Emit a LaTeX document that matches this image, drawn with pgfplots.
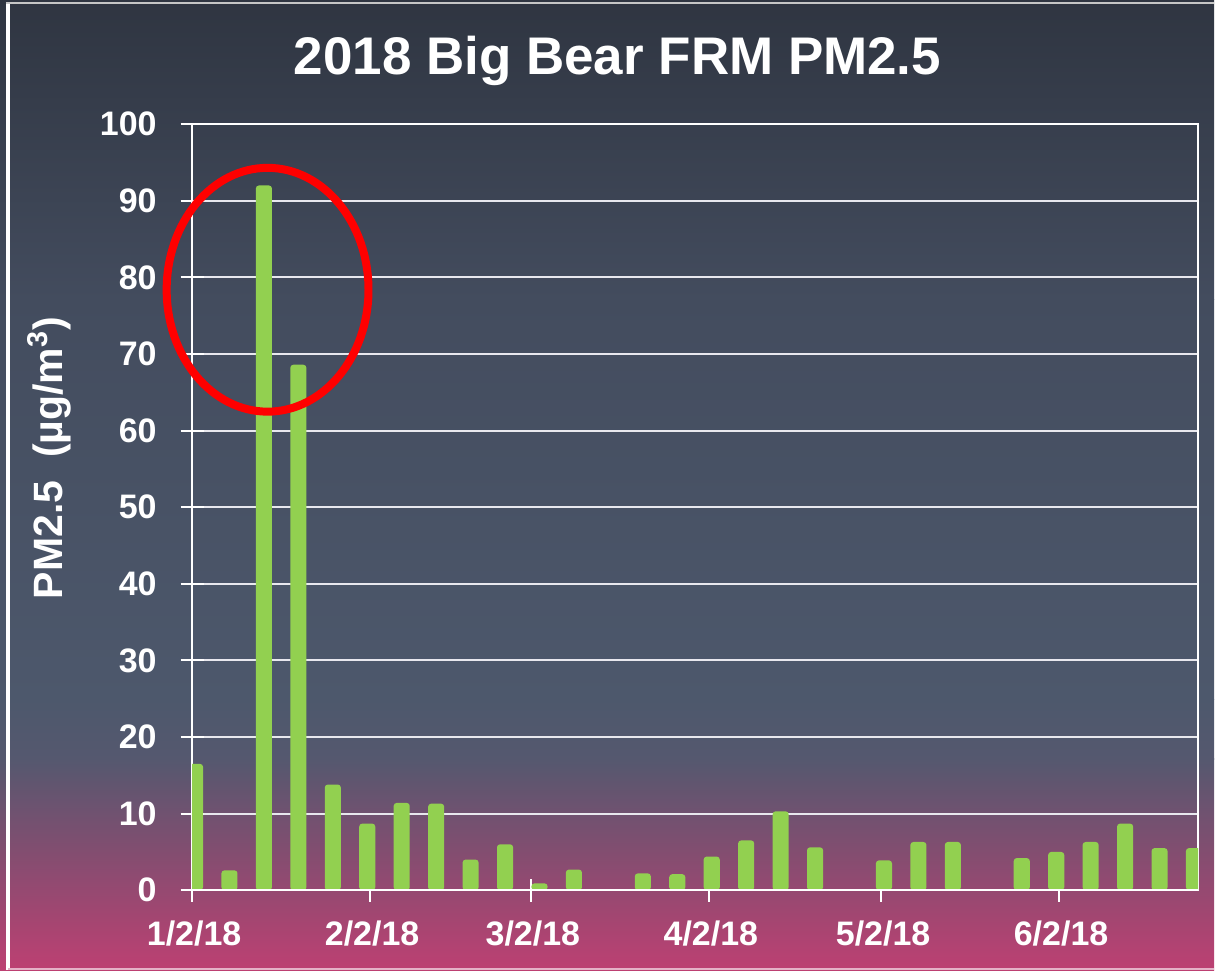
\documentclass[border=0pt]{standalone}
\usepackage{pgfplots}
\pgfplotsset{compat=1.18}
\usepackage{fontspec}
\setmainfont{Liberation Sans}
\definecolor{barg}{RGB}{146,208,80}
\definecolor{bg0}{HTML}{2F3541}
\definecolor{bg1}{HTML}{434C5E}
\definecolor{bg2}{HTML}{4D586C}
\definecolor{bg3}{HTML}{55586F}
\definecolor{bg4}{HTML}{BD4072}
\definecolor{gridc}{HTML}{E8E8EE}
\pgfplotstableread{
x y
0.5 16.5
6.5 2.6
12.5 92.0
18.5 68.6
24.5 13.8
30.5 8.7
36.5 11.4
42.5 11.3
48.5 4.0
54.5 6.0
60.5 0.9
66.5 2.7
78.5 2.2
84.5 2.1
90.5 4.4
96.5 6.5
102.5 10.3
108.5 5.6
120.5 3.9
126.5 6.3
132.5 6.3
144.5 4.2
150.5 5.0
156.5 6.3
162.5 8.7
168.5 5.5
174.5 5.5
}\pmdata
\begin{document}
\begin{tikzpicture}
% background gradient (1 px = 0.5 pt, image 1215 x 971 px)
\fill[top color=bg0, bottom color=bg1] (0pt,485.5pt) rectangle (607.5pt,335.5pt);
\fill[top color=bg1, bottom color=bg2] (0pt,335.7pt) rectangle (607.5pt,135.5pt);
\fill[top color=bg2, bottom color=bg3] (0pt,135.7pt) rectangle (607.5pt,105.5pt);
\fill[top color=bg3, bottom color=bg4] (0pt,105.7pt) rectangle (607.5pt,0pt);
% frame
\draw[white, line width=2pt] (4pt,0pt) -- (4pt,484.5pt);
\draw[gray!45!white, line width=1pt] (3pt,484pt) -- (607.5pt,484pt);
\draw[white!60!bg4, line width=0.75pt] (4pt,0.6pt) -- (607.5pt,0.6pt);
% title
\node[anchor=base, text=white, font=\fontsize{26.5}{26.5}\selectfont\bfseries] at (309pt,448pt) {2018 Big Bear FRM PM2.5};
\begin{axis}[
  at={(96.15pt,40pt)}, anchor=south west, scale only axis,
  width=503.35pt, height=383.35pt,
  xmin=0, xmax=175.2, ymin=0, ymax=100,
  ytick={0,10,...,100},
  xtick={0,31,59,90,120,151},
  xticklabels={1/2/18,2/2/18,3/2/18,4/2/18,5/2/18,6/2/18},
  tick pos=left,
  tick align=center,
  major tick length=11.5pt,
  ymajorgrids,
  grid style={gridc, line width=1pt},
  axis line style={white, line width=1pt},
  major tick style={white, line width=1pt},
  /pgf/number format/assume math mode=true,
  ticklabel style={font=\fontsize{17}{17}\selectfont\bfseries, text=white},
  yticklabel style={xshift=-8.5pt},
  xticklabel style={yshift=-6pt, xshift=1pt},
  ylabel={PM2.5\ \ (µg/m\textsuperscript{3})},
  ylabel style={font=\fontsize{20.5}{20.5}\selectfont\bfseries, text=white,
    at={(axis description cs:-0.1284,0.564)}, anchor=base},
]
\addplot[ybar, bar width=2.8, fill=barg, draw=none, rounded corners=1.5pt] table[x=x,y=y] {\pmdata};
\draw[white, line width=1pt] (axis cs:0,0) -- (axis cs:175.2,0);
\end{axis}
\draw[red, line width=4pt] (133.9pt,340.5pt) ellipse [x radius=50.5pt, y radius=61pt];
\end{tikzpicture}
\end{document}
